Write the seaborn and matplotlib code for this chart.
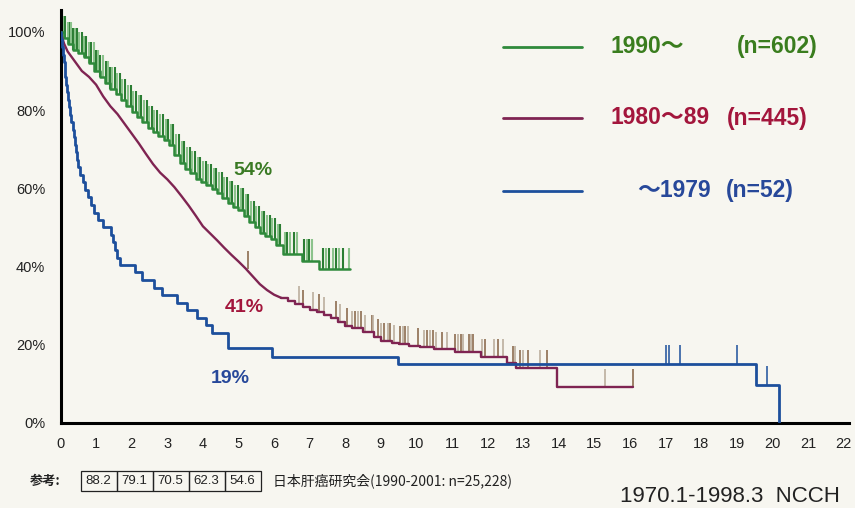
import numpy as np
import matplotlib
matplotlib.use("Agg")
import matplotlib.pyplot as plt
import seaborn as sns

# survival step data (years, %)
green_t = [0, 0.1, 0.2, 0.35, 0.5, 0.65, 0.8, 0.95, 1.1, 1.25, 1.4, 1.55, 1.7, 1.85,
           2.0, 2.15, 2.3, 2.45, 2.6, 2.75, 2.9, 3.05, 3.2, 3.35, 3.5, 3.65, 3.8, 3.95,
           4.1, 4.25, 4.4, 4.55, 4.7, 4.85, 5.0, 5.15, 5.3, 5.45, 5.6, 5.75, 5.9, 6.05,
           6.25, 6.78, 7.25, 8.13]
green_s = [100, 98.5, 97, 95.5, 94.5, 93.5, 92, 90, 88.5, 87, 85.5, 84, 82.5, 81,
           79.5, 78.3, 77, 75.5, 74.5, 73.5, 72.3, 71, 68.5, 66.5, 65, 64, 62.5, 61.5,
           60.8, 59.8, 58.8, 57.5, 56.3, 55.3, 54.5, 53, 51.3, 50, 48.6, 47.8, 47, 45.5,
           43.3, 41.5, 39.3, 39.3]

# 1980-89: dense early part (fine steps, drawn as a line) and later visible steps
red_early_t = [0, 0.1, 0.2, 0.4, 0.6, 0.8, 1.0, 1.2, 1.4, 1.6, 1.8, 2.0, 2.2, 2.4, 2.6,
               2.8, 3.0, 3.2, 3.4, 3.6, 3.8, 4.0, 4.2, 4.4, 4.6, 4.8, 5.0, 5.2, 5.4, 5.6,
               5.8, 6.0, 6.2]
red_early_s = [100, 97, 95, 92.5, 90, 88.5, 86.5, 83.5, 81, 79, 76.5, 74, 71.5, 68.8,
               66.2, 64, 62.3, 60.3, 58, 55.6, 53, 50.3, 48.5, 46.7, 44.8, 43, 41.3, 39.5,
               37.5, 35.5, 34, 32.8, 32]
red_late_t = [6.2, 6.4, 6.6, 6.8, 7.0, 7.2, 7.4, 7.6, 7.8, 8.0, 8.2, 8.5, 8.8, 9.0, 9.3,
              9.5, 9.8, 10.1, 10.5, 11.08, 11.8, 12.55, 12.8, 13.94, 16.08]
red_late_s = [32, 31.3, 30.5, 29.6, 29, 28.5, 27.7, 26.8, 25.8, 24.8, 24.2, 23.2, 22, 21,
              20.5, 20.3, 19.8, 19.4, 18.8, 18.2, 16.9, 15.3, 14.1, 9.2, 9.2]

blue_t = [0, 0.02, 0.04, 0.06, 0.09, 0.12, 0.14, 0.16, 0.18, 0.2, 0.23, 0.27, 0.3, 0.34,
          0.37, 0.4, 0.43, 0.46, 0.5, 0.55, 0.62, 0.7, 0.78, 0.86, 0.95, 1.05, 1.2, 1.42,
          1.48, 1.53, 1.58, 1.66, 2.08, 2.3, 2.62, 2.85, 3.28, 3.55, 3.84, 4.1, 4.25, 4.7,
          5.94, 9.48, 19.54, 20.18]
blue_s = [100, 98.1, 96.2, 94.2, 92.3, 90.4, 88.5, 86.5, 84.6, 82.7, 80.8, 78.8, 76.9, 75,
          73.1, 71.2, 69.2, 67.3, 65.4, 63.5, 61.5, 59.6, 57.7, 55.8, 53.8, 51.9, 50, 48.1,
          46.2, 44.2, 42.3, 40.4, 38.5, 36.5, 34.6, 32.7, 30.8, 28.8, 26.9, 25, 23.1, 19.2,
          17.0, 15.0, 9.6, 0]

# censored cases (years)
green_cens = [0.05, 0.1, 0.14, 0.2, 0.26, 0.3, 0.36, 0.42, 0.47, 0.53, 0.6, 0.66, 0.72, 0.8,
              0.86, 0.93, 1.0, 1.05, 1.12, 1.2, 1.27, 1.33, 1.4, 1.46, 1.53, 1.6, 1.68, 1.74,
              1.82, 1.9, 1.97, 2.05, 2.12, 2.2, 2.27, 2.35, 2.42, 2.5, 2.56, 2.64, 2.72, 2.8,
              2.87, 2.95, 3.02, 3.1, 3.17, 3.25, 3.32, 3.4, 3.48, 3.55, 3.63, 3.7, 3.78, 3.86,
              3.93, 4.0, 4.08, 4.15, 4.23, 4.3, 4.38, 4.46, 4.53, 4.6, 4.68, 4.76, 4.83, 4.9,
              4.98, 5.06, 5.13, 5.2, 5.28, 5.35, 5.43, 5.5, 5.58, 5.66, 5.73, 5.8, 5.88, 5.95,
              6.02, 6.1, 6.18, 6.31, 6.37, 6.45, 6.56, 6.63, 6.84, 6.92, 6.98, 7.06, 7.37,
              7.46, 7.55, 7.65, 7.74, 7.83, 7.94, 8.11]
red_cens = [5.27, 6.71, 6.82, 7.1, 7.26, 7.4, 7.73, 7.85, 8.04, 8.2, 8.27, 8.37, 8.43, 8.55,
            8.74, 8.79, 8.93, 9.0, 9.09, 9.21, 9.25, 9.37, 9.54, 9.61, 9.68, 9.75, 10.05,
            10.22, 10.3, 10.38, 10.47, 10.54, 10.73, 10.85, 11.08, 11.17, 11.24, 11.31,
            11.47, 11.52, 11.59, 11.85, 11.92, 12.18, 12.28, 12.42, 12.7, 12.77, 12.91,
            13.0, 13.12, 13.47, 13.66, 15.3, 16.08]
blue_cens = [17.0, 17.1, 17.4, 19.0, 19.85]

ref_values = ["88.2", "79.1", "70.5", "62.3", "54.6"]

GREEN, RED, BLUE = "#2f8a3b", "#7f2452", "#1d4f9c"
BG = "#f7f6f0"

sns.set_theme(style="white")
plt.rcParams['font.family'] = ['Liberation Sans', 'Noto Sans CJK JP']

fig = plt.figure(figsize=(8.55, 5.08), dpi=100, facecolor=BG)
ax = fig.add_axes([60.5 / 855, 85 / 508, 788.5 / 855, 413 / 508])
ax.set_facecolor(BG)


def level_at(ts, ss, t):
    i = np.searchsorted(ts, t, side="right") - 1
    return np.asarray(ss)[i]


red_all_t = red_early_t + red_late_t[1:]
red_all_s = red_early_s + red_late_s[1:]

# censor marks
for k, t in enumerate(green_cens):
    y0 = level_at(green_t, green_s, t)
    ax.vlines(t, y0, y0 + 5.5, color="#2b7d33" if k % 2 == 0 else "#8cc38c", lw=1.5, zorder=2)
for k, t in enumerate(red_cens):
    y0 = level_at(red_all_t, red_all_s, t)
    ax.vlines(t, y0, y0 + 4.5, color="#8d6c50" if k % 2 == 0 else "#bcae9e", lw=1.2, zorder=2)
for t in blue_cens:
    y0 = level_at(blue_t, blue_s, t)
    ax.vlines(t, y0, y0 + 5, color=BLUE, lw=1.1, zorder=2)

sns.lineplot(x=green_t, y=green_s, drawstyle="steps-post", color=GREEN, lw=1.8,
             ax=ax, sort=False, estimator=None, zorder=3)
sns.lineplot(x=red_early_t, y=red_early_s, color=RED, lw=1.7,
             ax=ax, sort=False, estimator=None, zorder=3)
sns.lineplot(x=red_late_t, y=red_late_s, drawstyle="steps-post", color=RED, lw=1.7,
             ax=ax, sort=False, estimator=None, zorder=3)
sns.lineplot(x=blue_t, y=blue_s, drawstyle="steps-post", color=BLUE, lw=2.0,
             ax=ax, sort=False, estimator=None, zorder=4)

ax.set_xlim(0, 22.15)
ax.set_ylim(0, 105.6)
ax.set_xticks(range(0, 23))
ax.set_yticks([0, 20, 40, 60, 80, 100])
ax.set_yticklabels([f"{v}%" for v in [0, 20, 40, 60, 80, 100]])
ax.set_yticks([10, 30, 50, 70, 90], minor=True)
ax.tick_params(axis="both", which="both", direction="in", length=5, width=1.5,
               color="black", labelsize=10.5, labelcolor="#222222")
ax.tick_params(axis="x", pad=10)
ax.tick_params(axis="y", pad=11)
for s in ["top", "right"]:
    ax.spines[s].set_visible(False)
for s in ["left", "bottom"]:
    ax.spines[s].set_color("black")
    ax.spines[s].set_linewidth(2.2)
ax.set_xlabel("")
ax.set_ylabel("")

# curve labels
ax.text(4.85, 64.5, "54%", color="#3a7a24", fontsize=14, fontweight="bold", ha="left", va="center")
ax.text(4.6, 29.5, "41%", color="#a3163c", fontsize=14, fontweight="bold", ha="left", va="center")
ax.text(4.22, 11.3, "19%", color="#27489a", fontsize=14, fontweight="bold", ha="left", va="center")


def fx(px):
    return px / 855


def fy(py):
    return 1 - py / 508


# legend
legend_rows = [
    (46.5, GREEN, "#3a7d1e", 610, "1990～", 737, "(n=602)"),
    (118, RED, "#a3163c", 610, "1980～89", 727, "(n=445)"),
    (190.5, BLUE, "#27489a", 637, "～1979", 726, "(n=52)"),
]
for py, lc, tc, x1, lab, x2, n in legend_rows:
    fig.add_artist(plt.Line2D([fx(503), fx(582)], [fy(py), fy(py)], color=lc, lw=2.0))
    fig.text(fx(x1), fy(py), lab, color=tc, fontsize=16.5, fontweight="bold", ha="left", va="center")
    fig.text(fx(x2), fy(py), n, color=tc, fontsize=16.5, fontweight="bold", ha="left", va="center")

# reference table
fig.text(fx(30), fy(481), "参考:", fontsize=9.5, fontweight="bold", ha="left", va="center",
         family=['Noto Sans CJK JP', 'DejaVu Sans'], color="#222222")
cell_w = 36
for i, v in enumerate(ref_values):
    x0 = 80.5 + i * cell_w
    fig.add_artist(plt.Rectangle((fx(x0), fy(491)), cell_w / 855, 20 / 508, fill=False,
                                 ec="#222222", lw=0.9))
    fig.text(fx(x0 + cell_w / 2), fy(481), v, fontsize=9.5, ha="center", va="center",
             color="#222222")
fig.text(fx(273), fy(481), "日本肝癌研究会(1990-2001: n=25,228)", fontsize=10,
         ha="left", va="center", family=['Noto Sans CJK JP', 'DejaVu Sans'], color="#222222")
fig.text(fx(840), fy(496), "1970.1-1998.3  NCCH", fontsize=16, ha="right", va="center",
         color="#222222")

fig.savefig("out.png", dpi=100, facecolor=BG)
